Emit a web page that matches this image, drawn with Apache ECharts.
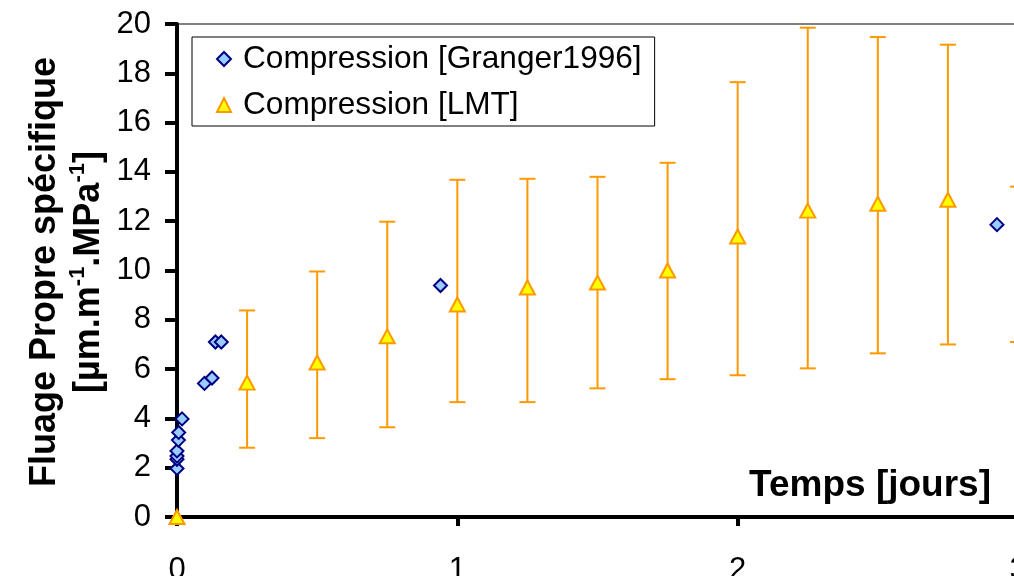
<!DOCTYPE html>
<html>
<head>
<meta charset="utf-8">
<script src="https://cdn.jsdelivr.net/npm/echarts@6/dist/echarts.min.js"></script>
<style>html,body{margin:0;padding:0;background:#fff}#c{width:1014px;height:576px}</style>
</head>
<body>
<div id="c"></div>
<script>
// Compression [Granger1996]
var grangerX = [0.0, 0.0, 0.0, 0.0, 0.005, 0.006, 0.018, 0.098, 0.125, 0.137, 0.158, 0.94, 2.925];
var grangerY = [1.97, 2.34, 2.47, 2.68, 3.12, 3.43, 3.98, 5.42, 5.64, 7.10, 7.10, 9.39, 11.86];
// Compression [LMT] with error bars
var lmtX    = [0, 0.25, 0.5, 0.75, 1, 1.25, 1.5, 1.75, 2, 2.25, 2.5, 2.75, 3];
var lmtY    = [0, 5.45, 6.27, 7.33, 8.62, 9.31, 9.51, 10.0, 11.38, 12.43, 12.71, 12.87, null];
var lmtLow  = [null, 2.81, 3.2, 3.64, 4.66, 4.66, 5.22, 5.59, 5.75, 6.03, 6.64, 7.0, 7.1];
var lmtHigh = [null, 8.38, 9.96, 11.98, 13.68, 13.72, 13.8, 14.37, 17.64, 19.85, 19.47, 19.16, 13.4];
var xTicks = [0, 1, 2, 3];
var yTicks = [0, 2, 4, 6, 8, 10, 12, 14, 16, 18, 20];

var FONT = '"Liberation Sans", Arial, sans-serif';
var grangerData = grangerX.map(function (x, i) { return [x, grangerY[i]]; });
var lmtData = [];
lmtX.forEach(function (x, i) { if (lmtY[i] != null) lmtData.push([x, lmtY[i]]); });
var errData = [];
lmtX.forEach(function (x, i) { if (lmtLow[i] != null) errData.push([x, lmtLow[i], lmtHigh[i]]); });

var chart = echarts.init(document.getElementById('c'), null, {renderer: 'canvas'});
chart.setOption({
  animation: false,
  backgroundColor: '#ffffff',
  grid: {left: 177, right: -4, top: 24, bottom: 59, containLabel: false, outerBoundsMode: 'none',
         show: true, borderColor: '#808080', borderWidth: 2, backgroundColor: 'transparent'},
  xAxis: {
    type: 'value', min: xTicks[0], max: xTicks[xTicks.length - 1], interval: 1,
    axisLine: {onZero: false, lineStyle: {color: '#000', width: 4}},
    axisTick: {show: true, length: 9, lineStyle: {color: '#000', width: 4}},
    splitLine: {show: false},
    axisLabel: {fontFamily: FONT, fontSize: 31, color: '#000', margin: 38, showMaxLabel: true, hideOverlap: false}
  },
  yAxis: {
    type: 'value', min: yTicks[0], max: yTicks[yTicks.length - 1], interval: 2,
    axisLine: {show: true, lineStyle: {color: '#000', width: 4}},
    axisTick: {show: true, length: 12, lineStyle: {color: '#000', width: 4}},
    splitLine: {show: false},
    axisLabel: {fontFamily: FONT, fontSize: 31, color: '#000', margin: 26}
  },
  legend: {
    orient: 'vertical', left: 192, top: 37,
    padding: [4, 13, 3, 24],
    backgroundColor: '#fff', borderColor: '#000', borderWidth: 1,
    itemWidth: 14, itemHeight: 14, itemGap: 10,
    textStyle: {fontFamily: FONT, fontSize: 31.6, color: '#000', lineHeight: 36, padding: [0, 0, 0, 7]},
    data: ['Compression [Granger1996]', 'Compression [LMT]']
  },
  graphic: [
    {
      type: 'text', x: 67, y: 272, rotation: Math.PI / 2,
      style: {
        text: '{b|Fluage Propre spécifique}\n{b|[µm.m}{s|-1}{b|.MPa}{s|-1}{b|]}',
        align: 'center', verticalAlign: 'middle', fill: '#000',
        rich: {
          b: {fontFamily: FONT, fontWeight: 'bold', fontSize: 36, lineHeight: 44, fill: '#000'},
          s: {fontFamily: FONT, fontWeight: 'bold', fontSize: 22, lineHeight: 44, verticalAlign: 'top', padding: [0, 0, 14, 0], fill: '#000'}
        }
      }
    },
    {
      type: 'text', right: 23, top: 467,
      style: {text: 'Temps [jours]', fontFamily: FONT, fontWeight: 'bold', fontSize: 37, fill: '#000'}
    }
  ],
  series: [
    {
      name: 'errbars', type: 'custom', z: 2, silent: true,
      renderItem: function (params, api) {
        var x = api.value(0);
        var lo = api.coord([x, api.value(1)]);
        var hi = api.coord([x, api.value(2)]);
        var hw = 8;
        var st = {stroke: '#FF9900', lineWidth: 2};
        return {type: 'group', children: [
          {type: 'line', shape: {x1: lo[0], y1: lo[1], x2: hi[0], y2: hi[1]}, style: st},
          {type: 'line', shape: {x1: lo[0] - hw, y1: lo[1], x2: lo[0] + hw, y2: lo[1]}, style: st},
          {type: 'line', shape: {x1: hi[0] - hw, y1: hi[1], x2: hi[0] + hw, y2: hi[1]}, style: st}
        ]};
      },
      encode: {x: 0, y: [1, 2]},
      data: errData
    },
    {
      name: 'Compression [LMT]', type: 'scatter', z: 3,
      symbol: 'triangle', symbolSize: [15, 14],
      itemStyle: {color: '#FFFF00', borderColor: '#FF9900', borderWidth: 2, opacity: 1},
      data: lmtData
    },
    {
      name: 'Compression [Granger1996]', type: 'scatter', z: 4,
      symbol: 'diamond', symbolSize: [13, 13],
      itemStyle: {color: '#99CCFF', borderColor: '#000080', borderWidth: 2, opacity: 1},
      data: grangerData
    }
  ]
});
</script>
</body>
</html>
